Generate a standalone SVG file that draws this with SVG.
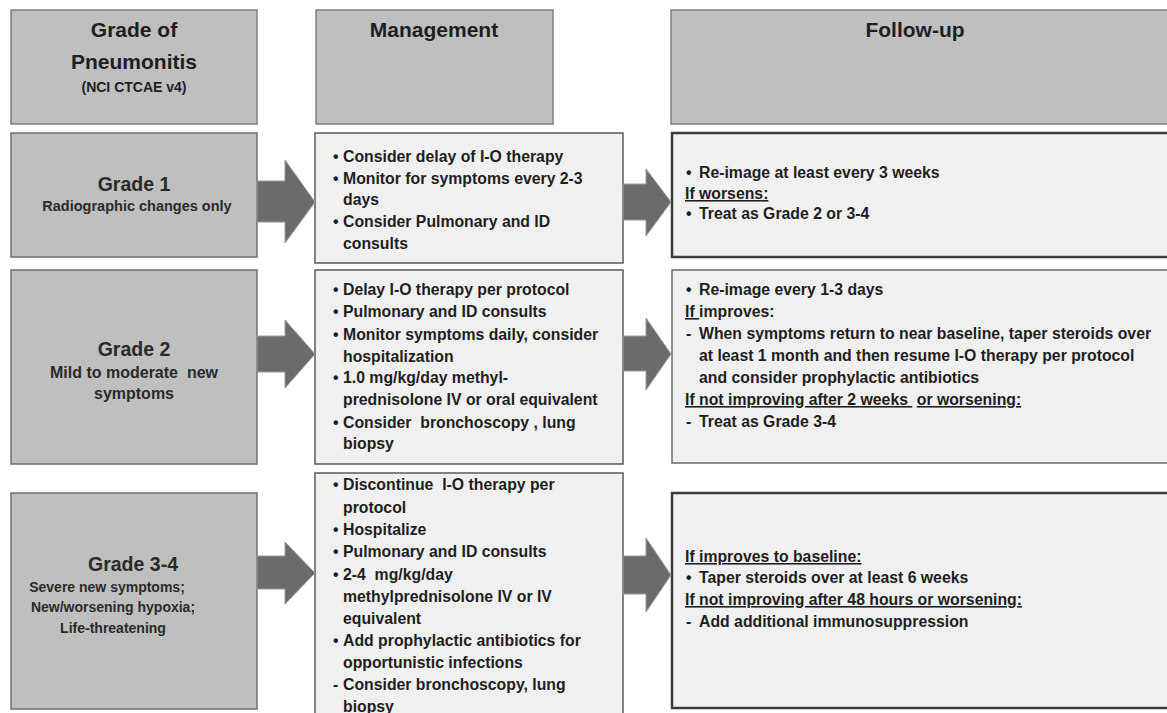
<svg xmlns="http://www.w3.org/2000/svg" width="1167" height="713" viewBox="0 0 1167 713">
  <style>
    .hdr { fill: #bfbfbf; stroke: #7f7f7f; stroke-width: 1.5; }
    .grade { fill: #bfbfbf; stroke: #6f6f6f; stroke-width: 1.5; }
    .mg { fill: #f0f0f0; stroke: #5a5a5a; stroke-width: 1.5; }
    .fu { fill: #f0f0f0; stroke: #3c3c3c; stroke-width: 2.5; }
    .fu2 { fill: #f0f0f0; stroke: #6a6a6a; stroke-width: 1.5; }
    .arrow { fill: #6b6b6b; stroke: #9a9a9a; stroke-width: 1; }
    text { font-family: "Liberation Sans", Arial, sans-serif; font-weight: bold; fill: #1e1e1e; }
    .h { font-size: 21px; text-anchor: middle; }
    .hs { font-size: 14px; text-anchor: middle; }
    .g { font-size: 19.5px; text-anchor: middle; fill: #2a2a2a; }
    .gs { font-size: 14.5px; text-anchor: middle; fill: #2a2a2a; }
    .gs2 { font-size: 16px; text-anchor: middle; fill: #2a2a2a; }
    .gs3 { font-size: 14px; text-anchor: middle; fill: #2a2a2a; }
    .t { font-size: 15.8px; }
    .u { text-decoration: underline; }
  </style>

  <g id="header-grade">
    <rect class="hdr" x="11" y="10" width="246" height="114"/>
    <text class="h" x="134" y="37">Grade of</text>
    <text class="h" x="134" y="69">Pneumonitis</text>
    <text class="hs" x="134" y="92">(NCI CTCAE v4)</text>
  </g>
  <g id="header-management">
    <rect class="hdr" x="316" y="10" width="237" height="114"/>
    <text class="h" x="434" y="37">Management</text>
  </g>
  <g id="header-followup">
    <rect class="hdr" x="671" y="10" width="520" height="114"/>
    <text class="h" x="915" y="37">Follow-up</text>
  </g>

  <g id="grade1">
    <rect class="grade" x="11" y="133" width="246" height="124"/>
    <text class="g" x="134" y="191">Grade 1</text>
    <text class="gs" x="137" y="211">Radiographic changes only</text>
  </g>
  <g id="grade2">
    <rect class="grade" x="11" y="270" width="246" height="194"/>
    <text class="g" x="134" y="356">Grade 2</text>
    <text class="gs2" x="134" y="378" xml:space="preserve">Mild to moderate  new</text>
    <text class="gs2" x="134" y="399">symptoms</text>
  </g>
  <g id="grade34">
    <rect class="grade" x="11" y="493" width="246" height="216"/>
    <text class="g" x="133" y="571">Grade 3-4</text>
    <text class="gs3" x="107" y="592">Severe new symptoms;</text>
    <text class="gs3" x="113" y="612">New/worsening hypoxia;</text>
    <text class="gs3" x="113" y="633">Life-threatening</text>
  </g>

  <g id="mgmt1">
    <rect class="mg" x="315" y="133" width="308" height="130"/>
    <text class="t" y="162"><tspan x="333">•</tspan><tspan x="343">Consider delay of I-O therapy</tspan></text>
    <text class="t" y="184"><tspan x="333">•</tspan><tspan x="343">Monitor for symptoms every 2-3</tspan></text>
    <text class="t" x="343" y="205">days</text>
    <text class="t" y="227"><tspan x="333">•</tspan><tspan x="343">Consider Pulmonary and ID</tspan></text>
    <text class="t" x="343" y="249">consults</text>
  </g>
  <g id="mgmt2">
    <rect class="mg" x="315" y="270" width="308" height="194"/>
    <text class="t" y="295"><tspan x="333">•</tspan><tspan x="343">Delay I-O therapy per protocol</tspan></text>
    <text class="t" y="317"><tspan x="333">•</tspan><tspan x="343">Pulmonary and ID consults</tspan></text>
    <text class="t" y="340"><tspan x="333">•</tspan><tspan x="343">Monitor symptoms daily, consider</tspan></text>
    <text class="t" x="343" y="362">hospitalization</text>
    <text class="t" y="383"><tspan x="333">•</tspan><tspan x="343">1.0 mg/kg/day methyl-</tspan></text>
    <text class="t" x="343" y="405">prednisolone IV or oral equivalent</text>
    <text class="t" y="428" xml:space="preserve"><tspan x="333">•</tspan><tspan x="343">Consider  bronchoscopy , lung</tspan></text>
    <text class="t" x="343" y="449">biopsy</text>
  </g>
  <g id="mgmt34">
    <rect class="mg" x="315" y="473" width="308" height="260"/>
    <text class="t" y="490" xml:space="preserve"><tspan x="333">•</tspan><tspan x="343">Discontinue  I-O therapy per</tspan></text>
    <text class="t" x="343" y="513">protocol</text>
    <text class="t" y="535"><tspan x="333">•</tspan><tspan x="343">Hospitalize</tspan></text>
    <text class="t" y="557"><tspan x="333">•</tspan><tspan x="343">Pulmonary and ID consults</tspan></text>
    <text class="t" y="580" xml:space="preserve"><tspan x="333">•</tspan><tspan x="343">2-4  mg/kg/day</tspan></text>
    <text class="t" x="343" y="602">methylprednisolone IV or IV</text>
    <text class="t" x="343" y="624">equivalent</text>
    <text class="t" y="646"><tspan x="333">•</tspan><tspan x="343">Add prophylactic antibiotics for</tspan></text>
    <text class="t" x="343" y="668">opportunistic infections</text>
    <text class="t" y="690"><tspan x="333">-</tspan><tspan x="343">Consider bronchoscopy, lung</tspan></text>
    <text class="t" x="343" y="712">biopsy</text>
  </g>

  <g id="followup1">
    <rect class="fu" x="672" y="133" width="520" height="124"/>
    <text class="t" y="178"><tspan x="686">•</tspan><tspan x="699">Re-image at least every 3 weeks</tspan></text>
    <text class="t u" x="685" y="199">If worsens:</text>
    <text class="t" y="219"><tspan x="686">•</tspan><tspan x="699">Treat as Grade 2 or 3-4</tspan></text>
  </g>
  <g id="followup2">
    <rect class="fu2" x="672" y="270" width="520" height="193"/>
    <text class="t" y="295"><tspan x="686">•</tspan><tspan x="699">Re-image every 1-3 days</tspan></text>
    <text class="t" x="685" y="317" xml:space="preserve"><tspan class="u">If </tspan>improves:</text>
    <text class="t" y="339"><tspan x="686">-</tspan><tspan x="699">When symptoms return to near baseline, taper steroids over</tspan></text>
    <text class="t" x="699" y="361">at least 1 month and then resume I-O therapy per protocol</text>
    <text class="t" x="699" y="383">and consider prophylactic antibiotics</text>
    <text class="t" x="685" y="405" xml:space="preserve"><tspan class="u">If not improving after 2 weeks </tspan> <tspan class="u">or worsening:</tspan></text>
    <text class="t" y="427"><tspan x="686">-</tspan><tspan x="699">Treat as Grade 3-4</tspan></text>
  </g>
  <g id="followup34">
    <rect class="fu" x="672" y="493" width="520" height="215"/>
    <text class="t u" x="685" y="562">If improves to baseline:</text>
    <text class="t" y="583"><tspan x="686">•</tspan><tspan x="699">Taper steroids over at least 6 weeks</tspan></text>
    <text class="t u" x="685" y="605">If not improving after 48 hours or worsening:</text>
    <text class="t" y="627"><tspan x="686">-</tspan><tspan x="699">Add additional immunosuppression</tspan></text>
  </g>

  <g id="connectors">
    <polygon class="arrow" points="257,181 285,181 285,160 315,202 285,243 285,222 257,222"/>
    <polygon class="arrow" points="623,184 646,184 646,169 671,202 646,236 646,220 623,220"/>
    <polygon class="arrow" points="257,336 285,336 285,320 315,354 285,388 285,372 257,372"/>
    <polygon class="arrow" points="623,336 646,336 646,318 671,354 646,390 646,371 623,371"/>
    <polygon class="arrow" points="257,556 285,556 285,542 315,573 285,604 285,589 257,589"/>
    <polygon class="arrow" points="623,556 646,556 646,538 671,575 646,612 646,594 623,594"/>
  </g>
</svg>
